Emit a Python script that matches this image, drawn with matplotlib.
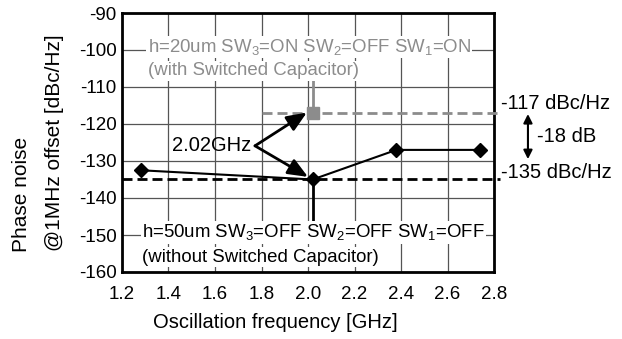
import matplotlib.pyplot as plt

plt.rcParams['font.family'] = ['Liberation Sans', 'DejaVu Sans']
plt.rcParams['mathtext.default'] = 'regular'
plt.rcParams['axes.unicode_minus'] = False

# measured points (without switched capacitor)
freq = [1.28, 2.02, 2.38, 2.74]
noise = [-132.5, -135, -127, -127]

# switched capacitor point
sc_freq = [2.02]
sc_noise = [-117]

xticks = [1.2, 1.4, 1.6, 1.8, 2.0, 2.2, 2.4, 2.6, 2.8]
yticks = [-90, -100, -110, -120, -130, -140, -150, -160]

gray = '#8c8c8c'

fig = plt.figure(figsize=(6.22, 3.39), dpi=100)
ax = fig.add_axes([122/622, 1 - 272/339, (494-122)/622, (272-13)/339])
ax.set_xlim(1.2, 2.8)
ax.set_ylim(-160, -90)
ax.set_xticks(xticks)
ax.set_yticks(yticks)
ax.set_xticklabels(['%.1f' % t for t in xticks])
ax.grid(True, color='#555555', lw=0.9)
ax.set_axisbelow(True)
ax.tick_params(labelsize=13.5, length=0)
ax.tick_params(axis='x', pad=10)
ax.tick_params(axis='y', pad=4)
for s in ax.spines.values():
    s.set_linewidth(2)

fig.text(275/622, 1 - 322/339, 'Oscillation frequency [GHz]', fontsize=14.5, ha='center', va='center')
fig.text(22/622, 1 - 194/339, 'Phase noise', fontsize=15, ha='center', va='center', rotation=90)
fig.text(55/622, 1 - 143/339, '@1MHz offset [dBc/Hz]', fontsize=15, ha='center', va='center',
         rotation=90)

# reference dashed lines
ax.plot([1.2, 2.826], [-135, -135], ls=(0, (3.6, 1.8)), color='black', lw=2, clip_on=False, zorder=3)
ax.plot([1.8, 2.826], [-117, -117], ls=(0, (3.6, 1.8)), color=gray, lw=2, clip_on=False, zorder=3)

# stems
ax.plot([sc_freq[0], sc_freq[0]], [sc_noise[0], -108], color=gray, lw=2, zorder=3)
ax.plot([freq[1], freq[1]], [noise[1], -146], color='black', lw=2, zorder=3)

ax.plot(freq, noise, color='black', lw=1.5, marker='D', ms=7, zorder=4)
ax.plot(sc_freq, sc_noise, color=gray, ls='none', marker='s', ms=8, zorder=4)

box = dict(facecolor='white', edgecolor='none', pad=1)
ax.text(1.31, -99.2, 'h=20um SW$_3$=ON SW$_2$=OFF SW$_1$=ON', color=gray, fontsize=13.4,
        va='center', bbox=box, zorder=5)
ax.text(1.31, -105.6, '(with Switched Capacitor)', color=gray, fontsize=13.4, va='center',
        bbox=box, zorder=5)
ax.text(1.286, -149.3, 'h=50um SW$_3$=OFF SW$_2$=OFF SW$_1$=OFF', color='black', fontsize=13.4,
        va='center', bbox=box, zorder=5)
ax.text(1.286, -156, '(without Switched Capacitor)', color='black', fontsize=13.4, va='center',
        bbox=box, zorder=5)

ax.text(1.415, -125.8, '2.02GHz', fontsize=14.5, va='center', ha='left', zorder=5)
arrow = dict(arrowstyle='-|>,head_length=0.6,head_width=0.25', color='black', lw=2,
             mutation_scale=20, shrinkA=0, shrinkB=0)
ax.annotate('', xy=(1.995, -116.9), xytext=(1.772, -125.9), arrowprops=arrow, zorder=6)
ax.annotate('', xy=(2.0, -134.3), xytext=(1.772, -125.9), arrowprops=arrow, zorder=6)

# right side annotations
ax.text(2.83, -114.4, '-117 dBc/Hz', fontsize=14.5, va='center', ha='left', clip_on=False)
ax.text(2.83, -133.2, '-135 dBc/Hz', fontsize=14.5, va='center', ha='left', clip_on=False)
ax.text(2.985, -123.3, '-18 dB', fontsize=14.5, va='center', ha='left', clip_on=False)
ax.annotate('', xy=(2.946, -117.3), xytext=(2.946, -129.5),
            arrowprops=dict(arrowstyle='<|-|>', color='black', lw=1.5, mutation_scale=13,
                            shrinkA=0, shrinkB=0), annotation_clip=False)

fig.savefig('out.png', dpi=100)
